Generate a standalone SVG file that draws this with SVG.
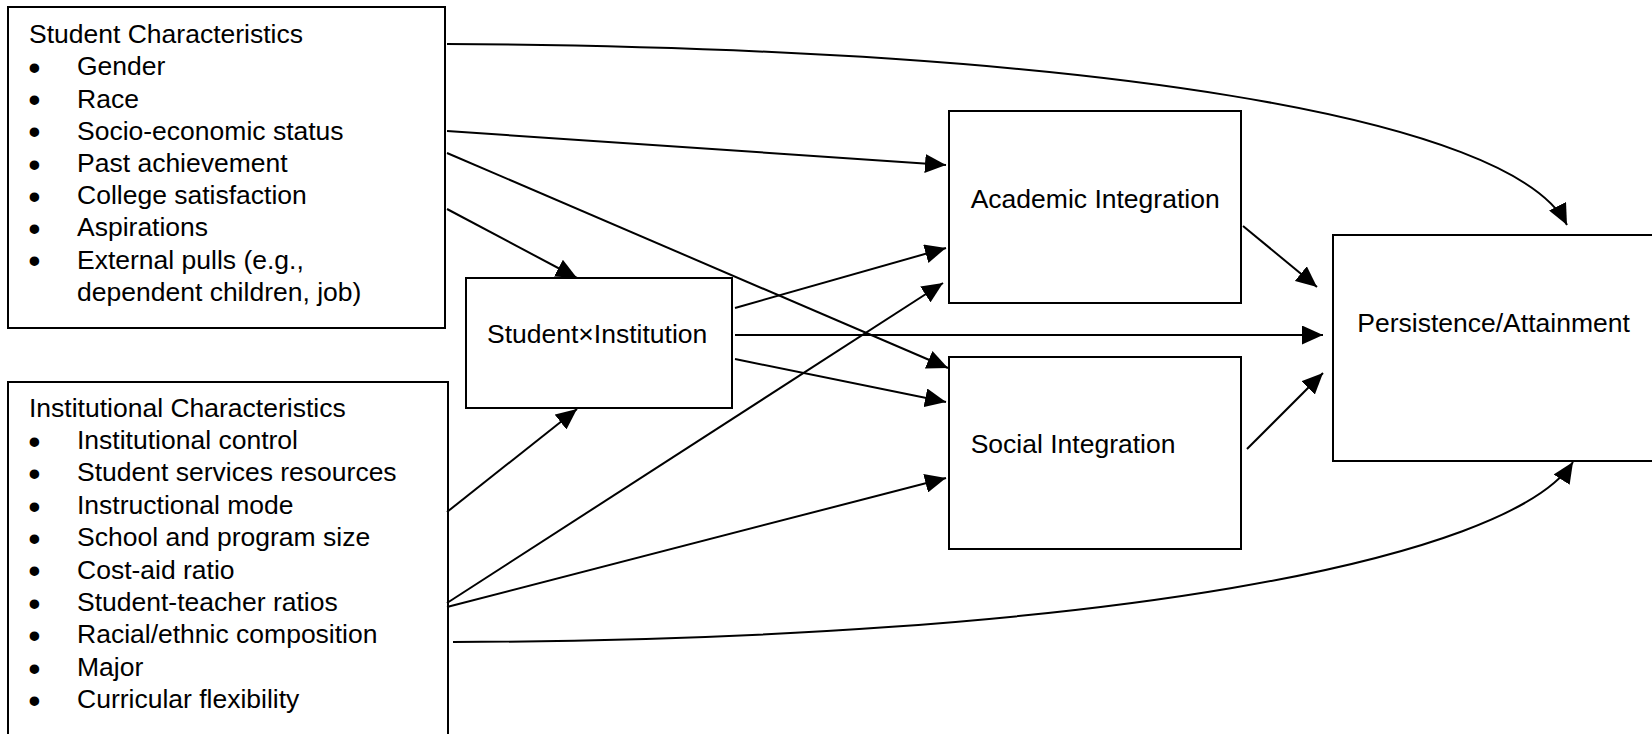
<svg xmlns="http://www.w3.org/2000/svg" width="1652" height="734" viewBox="0 0 1652 734">
<style>
.box{fill:#fff;stroke:#000;stroke-width:2}
.t{font-family:"Liberation Sans",Arial,sans-serif;font-size:26.5px;fill:#000}
.b{font-family:"Liberation Sans",Arial,sans-serif;font-size:35px;fill:#000;text-anchor:middle}
.c{fill:none;stroke:#000;stroke-width:2;marker-end:url(#ah)}
</style>
<defs>
<marker id="ah" viewBox="0 0 21 19" refX="21" refY="9.5" markerWidth="21" markerHeight="19" orient="auto" markerUnits="userSpaceOnUse">
<path d="M0,0 L21,9.5 L0,19 z" fill="#000"/>
</marker>
</defs>
<rect width="1652" height="734" fill="#fff"/>
<g id="student">
<rect class="box" x="8" y="7" width="437" height="321"/>
<text class="t" x="29" y="43">Student Characteristics</text>
<text class="b"><tspan x="34.5" y="80">•</tspan><tspan x="34.5" y="112.2">•</tspan><tspan x="34.5" y="144.4">•</tspan><tspan x="34.5" y="176.6">•</tspan><tspan x="34.5" y="208.8">•</tspan><tspan x="34.5" y="241">•</tspan><tspan x="34.5" y="273.2">•</tspan></text>
<text class="t" x="77" y="75.3">Gender</text>
<text class="t" x="77" y="107.5">Race</text>
<text class="t" x="77" y="139.7">Socio-economic status</text>
<text class="t" x="77" y="171.9">Past achievement</text>
<text class="t" x="77" y="204.1">College satisfaction</text>
<text class="t" x="77" y="236.3">Aspirations</text>
<text class="t" x="77" y="268.5">External pulls (e.g.,</text>
<text class="t" x="77" y="300.7">dependent children, job)</text>
</g>
<g id="institution">
<rect class="box" x="8" y="382" width="440" height="370"/>
<text class="t" x="29" y="416.7">Institutional Characteristics</text>
<text class="b"><tspan x="34.5" y="453.7">•</tspan><tspan x="34.5" y="486.1">•</tspan><tspan x="34.5" y="518.5">•</tspan><tspan x="34.5" y="550.9">•</tspan><tspan x="34.5" y="583.3">•</tspan><tspan x="34.5" y="615.7">•</tspan><tspan x="34.5" y="648.1">•</tspan><tspan x="34.5" y="680.5">•</tspan><tspan x="34.5" y="712.9">•</tspan></text>
<text class="t" x="77" y="449">Institutional control</text>
<text class="t" x="77" y="481.4">Student services resources</text>
<text class="t" x="77" y="513.8">Instructional mode</text>
<text class="t" x="77" y="546.2">School and program size</text>
<text class="t" x="77" y="578.6">Cost-aid ratio</text>
<text class="t" x="77" y="611">Student-teacher ratios</text>
<text class="t" x="77" y="643.4">Racial/ethnic composition</text>
<text class="t" x="77" y="675.8">Major</text>
<text class="t" x="77" y="708.2">Curricular flexibility</text>
</g>
<g id="sxi">
<rect class="box" x="466" y="278" width="266" height="130"/>
<text class="t" x="487" y="343.3">Student×Institution</text>
</g>
<g id="academic">
<rect class="box" x="949" y="111" width="292" height="192"/>
<text class="t" x="970.7" y="208.3">Academic Integration</text>
</g>
<g id="social">
<rect class="box" x="949" y="357" width="292" height="192"/>
<text class="t" x="970.7" y="452.7">Social Integration</text>
</g>
<g id="persistence">
<rect class="box" x="1333" y="235" width="330" height="226"/>
<text class="t" x="1357.3" y="331.7">Persistence/Attainment</text>
</g>
<g id="connectors">
<path class="c" d="M447,44 C1100,48 1513,118 1567,225"/>
<path class="c" d="M447,131 L946,165"/>
<path class="c" d="M447,153 L948,368"/>
<path class="c" d="M447,209 L577,278"/>
<path class="c" d="M735,308 L946,248"/>
<path class="c" d="M735,335 L1323,335"/>
<path class="c" d="M735,359 L946,402"/>
<path class="c" d="M447,512 L577,409"/>
<path class="c" d="M447,603 L943,283"/>
<path class="c" d="M447,607 L946,478"/>
<path class="c" d="M453,642 C1100,640 1510,560 1573,462"/>
<path class="c" d="M1243,226 L1317,287"/>
<path class="c" d="M1247,449 L1323,373"/>
</g>
</svg>
